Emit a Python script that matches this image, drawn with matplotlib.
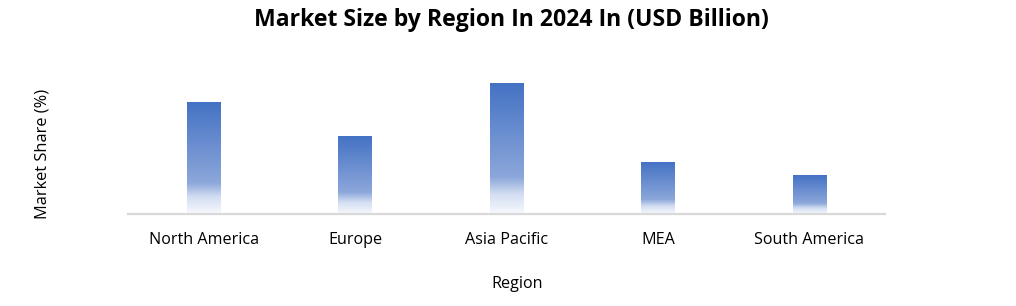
import matplotlib.pyplot as plt
import numpy as np
from matplotlib.colors import LinearSegmentedColormap

regions = ["North America", "Europe", "Asia Pacific", "MEA", "South America"]
market_size = [112, 78, 131, 52, 39]

plt.rcParams['font.family'] = ['Open Sans', 'DejaVu Sans']

fig = plt.figure(figsize=(10.16, 3.06), dpi=100)
ax = fig.add_axes([0.126, 0.3007, 0.745, 0.49])

# top of bar -> bottom of bar
grad = LinearSegmentedColormap.from_list(
    "fade", [(0.0, "#4472C4"), (0.72, "#8CA7DA"), (0.85, "#D3DEF2"), (1.0, "#F7F9FD")])

bars = ax.bar(range(len(regions)), market_size, width=0.22, color="none")
img = np.linspace(0, 1, 256).reshape(-1, 1)
for b in bars:
    x0, y0 = b.get_x(), b.get_y()
    w, h = b.get_width(), b.get_height()
    ax.imshow(img, cmap=grad, aspect="auto", extent=[x0, x0 + w, y0, y0 + h],
              origin="upper", zorder=2)

ax.set_xlim(-0.5, len(regions) - 0.5)
ax.set_ylim(0, 150)
ax.set_xticks(range(len(regions)))
ax.set_xticklabels(regions, fontsize=11.6)
ax.set_yticks([])
ax.tick_params(axis="x", length=0, pad=13)
for s in ["top", "right", "left"]:
    ax.spines[s].set_visible(False)
ax.spines["bottom"].set_color("#D9D9D9")
ax.spines["bottom"].set_linewidth(1.6)

ax.set_xlabel("Region", fontsize=11.6)
ax.xaxis.set_label_coords(0.514, -0.413)
ax.set_ylabel("Market Share (%)", fontsize=11.8)
ax.yaxis.set_label_coords(-0.103, 0.40)
fig.text(0.503, 0.935, "Market Size by Region In 2024 In (USD Billion)", fontsize=16.6,
         fontweight="bold", ha="center", va="center")

fig.savefig("out.png", dpi=100)
